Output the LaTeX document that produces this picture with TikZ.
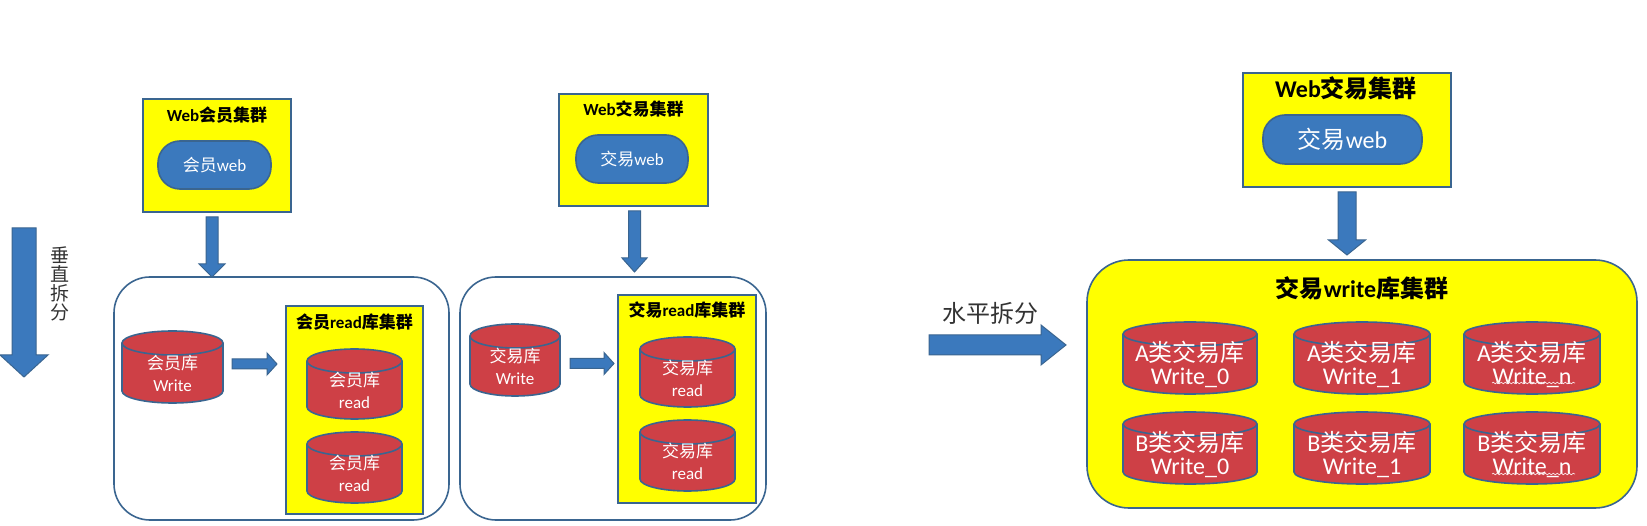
\documentclass[tikz,border=0pt]{standalone}
\usepackage{fontspec}
\setmainfont{Carlito}
\newfontfamily\cjk{Noto Sans CJK SC}
\usetikzlibrary{calc,decorations.pathmorphing}
\definecolor{edgeblue}{HTML}{3A6590}
\definecolor{arrowblue}{HTML}{3B79BD}
\definecolor{dbred}{HTML}{CE4046}
\definecolor{labelgrey}{HTML}{333333}
\definecolor{boxyellow}{RGB}{255,255,0}
\newcommand{\zh}[1]{{\cjk #1}}
\newcommand{\fsz}[2]{\fontsize{#1}{#2}\selectfont}
\tikzset{
  base/.style={rectangle,inner sep=0pt,outer sep=0pt,align=center},
  yellowbox/.style={base,draw=edgeblue,line width=1.6pt,fill=boxyellow},
  container/.style={base,draw=edgeblue,line width=1.6pt,rounded corners=36pt},
  pill/.style={base,draw=edgeblue,line width=1.6pt,fill=arrowblue,rounded corners=22pt,text=white},
  titletext/.style={base,text=black,font=\bfseries\fsz{#1}{#1}},
  dbshape/.style={draw=edgeblue,line width=1.6pt,fill=dbred},
  dbsmall/.style={base,text=white,font=\fsz{17}{22}},
  dblarge/.style={base,text=white,font=\fsz{24}{23}},
  sidetext/.style={base,text=labelgrey,font=\fsz{#1}{#1}},
  blockshape/.style={draw=edgeblue,line width=1pt,fill=arrowblue},
  bdown/.style n args={3}{blockshape,to path={
    let \p1=(\tikztostart),\p2=(\tikztotarget) in
    (\x1-#1pt,\y1) -- (\x1+#1pt,\y1) -- (\x1+#1pt,\y2+#3pt) -- (\x1+#2pt,\y2+#3pt)
    -- (\x1,\y2) -- (\x1-#2pt,\y2+#3pt) -- (\x1-#1pt,\y2+#3pt) -- cycle}},
  bright/.style n args={3}{blockshape,to path={
    let \p1=(\tikztostart),\p2=(\tikztotarget) in
    (\x1,\y1+#1pt) -- (\x1,\y1-#1pt) -- (\x2-#3pt,\y1-#1pt) -- (\x2-#3pt,\y1-#2pt)
    -- (\x2,\y1) -- (\x2-#3pt,\y1+#2pt) -- (\x2-#3pt,\y1+#1pt) -- cycle}},
  squiggle/.style={draw=white!85!dbred,line width=.7pt,decorate,decoration={snake,amplitude=.8pt,segment length=4pt}},
}
% name, x1, y1, x2, y2, text shift, text
\newcommand{\dbnode}[7][dbsmall]{%
  \pgfmathsetmacro\dbcx{(#3+#5)/2}%
  \pgfmathsetmacro\dbrx{(#5-#3)/2}%
  \pgfmathsetmacro\dbw{#5-#3}%
  \pgfmathsetmacro\dbcy{(#4+#6)/2+#7}%
  \draw[dbshape] (#3,#4+12) -- (#3,#6-12)
    arc[start angle=180,end angle=360,x radius=\dbrx pt,y radius=12pt]
    -- (#5,#4+12)
    arc[start angle=0,end angle=180,x radius=\dbrx pt,y radius=12pt] -- cycle;
  \draw[edgeblue,line width=1.6pt] (#3,#4+12)
    arc[start angle=180,end angle=360,x radius=\dbrx pt,y radius=12pt];
  \node[#1,minimum width=\dbw pt] (#2) at (\dbcx,\dbcy)
}
\begin{document}
\begin{tikzpicture}[x=1pt,y=-1pt]
\useasboundingbox (0,0) rectangle (1647,526);
\fill[white] (0,0) rectangle (1647,526);

% --- vertical split
\node[sidetext=19] (vlabel) at (60,283.5) {\zh{垂}\\\zh{直}\\\zh{拆}\\\zh{分}};
\coordinate (vs) at (24,228);
\coordinate (ve) at (24,377);
\draw[bdown={12}{24}{22}] (vs) to (ve);

% --- member column
\node[yellowbox,minimum width=148pt,minimum height=113pt] (webA) at (217,155.5) {};
\node[titletext=17] (webAt) at (217,115) {Web\zh{会员集群}};
\node[pill,minimum width=113pt,minimum height=48pt,font=\fsz{17}{17}] (pillA) at (214.5,165) {\zh{会员}web};
\node[container,minimum width=335pt,minimum height=243pt] (contA) at (281.5,398.5) {};
\node[yellowbox,minimum width=137pt,minimum height=208pt] (readA) at (354.5,410) {};
\node[titletext=17] (readAt) at (354.5,322) {\zh{会员}read\zh{库集群}};
\dbnode{writeA}{122}{331}{223}{403}{6} {\zh{会员库}\\Write};
\dbnode{readA1}{307}{349}{402}{419}{6} {\zh{会员库}\\read};
\dbnode{readA2}{307}{432}{402}{503}{6} {\zh{会员库}\\read};
\coordinate (a1s) at ($(webA.south)+(-5,5)$);
\coordinate (a1e) at (a1s |- contA.north);
\draw[bdown={6}{13}{13}] (a1s) to (a1e);
\coordinate (a2s) at ($(writeA.east)+(9,-9)$);
\coordinate (a2e) at ($(a2s -| readA.west)+(-9,0)$);
\draw[bright={5}{11}{10}] (a2s) to (a2e);

% --- trade column
\node[yellowbox,minimum width=149pt,minimum height=112pt] (webB) at (633.5,150) {};
\node[titletext=17] (webBt) at (633.5,109) {Web\zh{交易集群}};
\node[pill,minimum width=112pt,minimum height=48pt,font=\fsz{17}{17}] (pillB) at (632,159) {\zh{交易}web};
\node[container,minimum width=306pt,minimum height=243pt] (contB) at (613,398.5) {};
\node[yellowbox,minimum width=138pt,minimum height=208pt] (readB) at (687,399) {};
\node[titletext=17] (readBt) at (687,310) {\zh{交易}read\zh{库集群}};
\dbnode{writeB}{470}{324}{560}{396}{6} {\zh{交易库}\\Write};
\dbnode{readB1}{640}{337}{735}{407}{6} {\zh{交易库}\\read};
\dbnode{readB2}{640}{420}{735}{491}{6} {\zh{交易库}\\read};
\coordinate (b1s) at ($(webB.south)+(1,5)$);
\coordinate (b1e) at ($(b1s |- contB.north)+(0,-5)$);
\draw[bdown={6}{12.5}{14}] (b1s) to (b1e);
\coordinate (b2s) at ($(writeB.east)+(10,-2.5)$);
\coordinate (b2e) at ($(b2s -| readB.west)+(-4,0)$);
\draw[bright={5}{11}{10}] (b2s) to (b2e);

% --- horizontal split
\node[sidetext=24] (hlabel) at (990,313) {\zh{水平拆分}};
\coordinate (hs) at (929,345);
\coordinate (he) at (1066,345);
\draw[bright={10}{20}{25}] (hs) to (he);

% --- sharded trade column
\node[yellowbox,minimum width=208pt,minimum height=114pt] (webC) at (1347,130) {};
\node[titletext=24] (webCt) at (1346,88) {Web\zh{交易集群}};
\node[pill,minimum width=159pt,minimum height=49pt,font=\fsz{24}{24}] (pillC) at (1342.5,139.5) {\zh{交易}web};
\node[container,fill=boxyellow,rounded corners=42pt,minimum width=550pt,minimum height=248pt] (contC) at (1362,384) {};
\node[titletext=24] (contCt) at (1362,288) {\zh{交易}write\zh{库集群}};
\coordinate (c1s) at ($(webC.south)+(0,5)$);
\coordinate (c1e) at ($(c1s |- contC.north)+(0,-5)$);
\draw[bdown={9}{18.5}{15}] (c1s) to (c1e);

\dbnode[dblarge]{a0}{1123}{322}{1257}{394}{6.5} {A\zh{类交易库}\\Write\_0};
\dbnode[dblarge]{a1}{1294}{322}{1430}{394}{6.5} {A\zh{类交易库}\\Write\_1};
\dbnode[dblarge]{an}{1464}{322}{1600}{394}{6.5} {A\zh{类交易库}\\Write\_n};
\dbnode[dblarge]{b0}{1123}{412}{1257}{484}{6.5} {B\zh{类交易库}\\Write\_0};
\dbnode[dblarge]{b1}{1294}{412}{1430}{484}{6.5} {B\zh{类交易库}\\Write\_1};
\dbnode[dblarge]{bn}{1464}{412}{1600}{484}{6.5} {B\zh{类交易库}\\Write\_n};
\draw[squiggle] (1492,383) -- (1575,383);
\draw[squiggle] (1492,474) -- (1575,474);
\end{tikzpicture}
\end{document}
